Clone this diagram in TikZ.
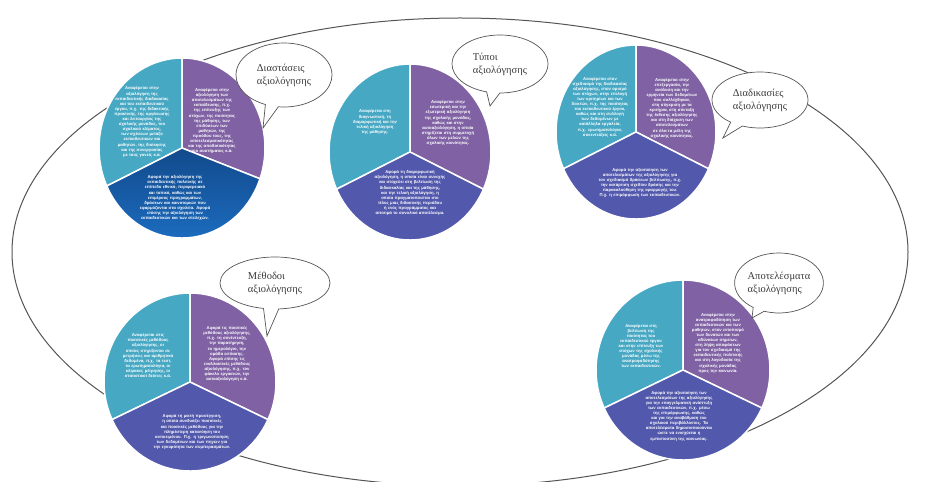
\documentclass[tikz,border=0pt]{standalone}
\usepackage{fontspec}
\setmainfont{Liberation Serif}
\newfontfamily\slicefont{Liberation Sans}
\usetikzlibrary{shapes.callouts}

\definecolor{tealfillc}{HTML}{47A8C4}
\definecolor{purplefillc}{HTML}{8062A4}
\definecolor{indigofillc}{HTML}{5258AC}
\definecolor{navytop}{HTML}{124A8C}
\definecolor{navybottom}{HTML}{1D6FC4}
\definecolor{frameline}{HTML}{555555}
\definecolor{bubbletext}{HTML}{3A3A3A}

% one three-slice pie: centre x, centre y, x radius, y radius,
% angle of the right divider, style of the lower slice
\newcommand{\evalpie}[6]{%
  \begin{scope}[shift={(#1,#2)}]
    \path[fill=tealfillc,sliceedge] (0,0) -- (90:#3 and #4)
      arc[start angle=90,end angle=205,x radius=#3,y radius=#4] -- cycle;
    \path[fill=purplefillc,sliceedge] (0,0) -- (90:#3 and #4)
      arc[start angle=90,end angle=#5,x radius=#3,y radius=#4] -- cycle;
    \path[#6,sliceedge] (0,0) -- (#5:#3 and #4)
      arc[start angle=#5,end angle=-155,x radius=#3,y radius=#4] -- cycle;
  \end{scope}}

\begin{document}
\begin{tikzpicture}[x=1pt,y=1pt,
  sliceedge/.style={draw=white,line width=1.5pt,line join=round},
  indigoslice/.style={fill=indigofillc},
  navyslice/.style={top color=navytop,bottom color=navybottom},
  slicetext/.style={text=white,align=center,inner sep=0pt,
    font=\slicefont\bfseries\fontsize{4.2}{5.1}\selectfont},
  bubble/.style={ellipse callout,draw=frameline,fill=white,line width=0.7pt,
    inner sep=0pt,align=left,text=bubbletext,callout pointer arc=16,
    font=\fontsize{10.5}{13}\selectfont},
  frame/.style={draw=frameline,line width=1pt}]

\useasboundingbox (0,0) rectangle (927,482);
\clip (0,0) rectangle (927,482);
\fill[white] (0,0) rectangle (927,482);

% outer frame
\draw[frame] (460,230) ellipse [x radius=448,y radius=234];

% pies
\evalpie{182}{334}{83}{90}{-20}{navyslice}
\evalpie{410}{330}{81}{88}{-25}{indigoslice}
\evalpie{636}{350}{80}{87}{-25}{indigoslice}
\evalpie{190}{100}{86}{89}{-25}{indigoslice}
\evalpie{683}{112}{87}{90}{-25}{indigoslice}

% dimensions
\node[slicetext,text width=56pt] (d1) at (142,360) {Αναφέρεται στην αξιολόγηση της εκπαιδευτικής διαδικασίας και του εκπαιδευτικού έργου, π.χ. της διδακτικής πρακτικής, της οργάνωσης και λειτουργίας της σχολικής μονάδας, του σχολικού κλίματος, των σχέσεων μεταξύ εκπαιδευτικών και μαθητών, της διοίκησης και της συνεργασίας με τους γονείς κ.ά.};
\node[slicetext,text width=48pt] (d2) at (212,361) {Αναφέρεται στην αξιολόγηση των αποτελεσμάτων της εκπαίδευσης, π.χ. της επίτευξης των στόχων, της ποιότητας της μάθησης, των επιδόσεων των μαθητών, της προόδου τους, της αποτελεσματικότητας και της αποδοτικότητας του συστήματος κ.ά.};
\node[slicetext,text width=72pt] (d3) at (175,284) {Αφορά την αξιολόγηση της εκπαιδευτικής πολιτικής σε επίπεδο εθνικό, περιφερειακό και τοπικό, καθώς και των επιμέρους προγραμμάτων, δράσεων και καινοτομιών που εφαρμόζονται στα σχολεία. Αφορά επίσης την αξιολόγηση των εκπαιδευτικών και των στελεχών.};

% types
\node[slicetext,text width=54pt] (t1) at (375,360) {Αναφέρεται στη διαγνωστική, τη διαμορφωτική και την τελική αξιολόγηση της μάθησης.};
\node[slicetext,text width=56pt] (t2) at (448,359) {Αναφέρεται στην εσωτερική και την εξωτερική αξιολόγηση της σχολικής μονάδας, καθώς και στην αυτοαξιολόγηση, η οποία στηρίζεται στη συμμετοχή όλων των μελών της σχολικής κοινότητας.};
\node[slicetext,text width=74pt] (t3) at (410,289) {Αφορά τη διαμορφωτική αξιολόγηση, η οποία είναι συνεχής και στοχεύει στη βελτίωση της διδασκαλίας και της μάθησης, και την τελική αξιολόγηση, η οποία πραγματοποιείται στο τέλος μιας διδακτικής περιόδου ή ενός προγράμματος και αποτιμά το συνολικό αποτέλεσμα.};

% processes
\node[slicetext,text width=58pt] (r1) at (600,375) {Αναφέρεται στον σχεδιασμό της διαδικασίας αξιολόγησης, στον ορισμό των στόχων, στην επιλογή των κριτηρίων και των δεικτών, π.χ. της ποιότητας του εκπαιδευτικού έργου, καθώς και στη συλλογή των δεδομένων με κατάλληλα εργαλεία, π.χ. ερωτηματολόγια, συνεντεύξεις κ.ά.};
\node[slicetext,text width=52pt] (r2) at (672,374) {Αναφέρεται στην επεξεργασία, την ανάλυση και την ερμηνεία των δεδομένων που συλλέχθηκαν, στη σύγκριση με τα κριτήρια, στη σύνταξη της έκθεσης αξιολόγησης και στη διάχυση των αποτελεσμάτων σε όλα τα μέλη της σχολικής κοινότητας.};
\node[slicetext,text width=84pt] (r3) at (640,299) {Αφορά την αξιοποίηση των αποτελεσμάτων της αξιολόγησης για τον σχεδιασμό δράσεων βελτίωσης, π.χ. την κατάρτιση σχεδίου δράσης και την παρακολούθηση της εφαρμογής του. Π.χ. η επιμόρφωση των εκπαιδευτικών.};

% methods
\node[slicetext,text width=52pt] (m1) at (148,126) {Αναφέρεται στις ποσοτικές μεθόδους αξιολόγησης, οι οποίες στηρίζονται σε μετρήσεις και αριθμητικά δεδομένα, π.χ. τα τεστ, τα ερωτηματολόγια, οι κλίμακες μέτρησης, οι στατιστικοί δείκτες κ.ά.};
\node[slicetext,text width=52pt] (m2) at (227,128) {Αφορά τις ποιοτικές μεθόδους αξιολόγησης, π.χ. τη συνέντευξη, την παρατήρηση, το ημερολόγιο, την ομάδα εστίασης. Αφορά επίσης τις εναλλακτικές μεθόδους αξιολόγησης, π.χ. τον φάκελο εργασιών, την αυτοαξιολόγηση κ.ά.};
\node[slicetext,text width=80pt] (m3) at (192,50) {Αφορά τη μικτή προσέγγιση, η οποία συνδυάζει ποσοτικές και ποιοτικές μεθόδους για την πληρέστερη κατανόηση του αντικειμένου. Π.χ. η τριγωνοποίηση των δεδομένων και των πηγών για την εγκυρότητα των συμπερασμάτων.};

% results
\node[slicetext,text width=46pt] (s1) at (641,136) {Αναφέρεται στη βελτίωση της ποιότητας του εκπαιδευτικού έργου και στην επίτευξη των στόχων της σχολικής μονάδας μέσω της ανατροφοδότησης των εκπαιδευτικών.};
\node[slicetext,text width=56pt] (s2) at (718,139) {Αναφέρεται στην ανατροφοδότηση των εκπαιδευτικών και των μαθητών, στον εντοπισμό των δυνατών και των αδύνατων σημείων, στη λήψη αποφάσεων για τον σχεδιασμό της εκπαιδευτικής πολιτικής και στη λογοδοσία της σχολικής μονάδας προς την κοινωνία.};
\node[slicetext,text width=72pt] (s3) at (679,66) {Αφορά την αξιοποίηση των αποτελεσμάτων της αξιολόγησης για την επαγγελματική ανάπτυξη των εκπαιδευτικών, π.χ. μέσω της επιμόρφωσης, καθώς και για την αναβάθμιση του σχολικού περιβάλλοντος. Τα αποτελέσματα δημοσιοποιούνται ώστε να ενισχύεται η εμπιστοσύνη της κοινωνίας.};

% speech bubbles
\node[bubble,minimum width=96pt,minimum height=64pt,
  callout absolute pointer={(263,354)}] (c1) at (284,407) {Διαστάσεις\\αξιολόγησης};
\node[bubble,minimum width=96pt,minimum height=58pt,
  callout absolute pointer={(490,376)}] (c2) at (500,418) {Τύποι\\αξιολόγησης};
\node[bubble,minimum width=96pt,minimum height=56pt,
  callout absolute pointer={(723,344)}] (c3) at (760,382) {Διαδικασίες\\αξιολόγησης};
\node[bubble,minimum width=110pt,minimum height=52pt,
  callout absolute pointer={(267,146)}] (c4) at (275,199) {Μέθοδοι\\αξιολόγησης};
\node[bubble,minimum width=88pt,minimum height=60pt,
  callout absolute pointer={(752,164)}] (c5) at (779,199) {Αποτελέσματα\\αξιολόγησης};
\end{tikzpicture}
\end{document}
